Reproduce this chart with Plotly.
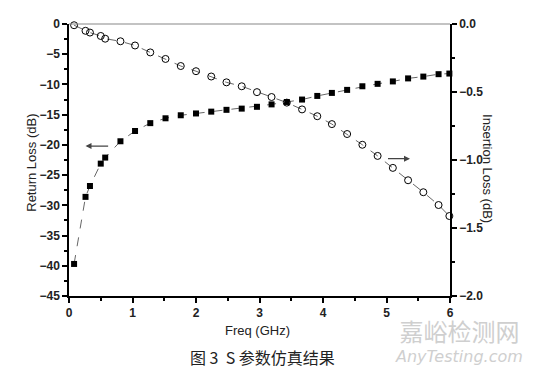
import plotly.graph_objects as go

freq = [0.08, 0.26, 0.33, 0.5, 0.57, 0.81, 1.04, 1.28, 1.52, 1.76, 2.0, 2.24, 2.48,
        2.72, 2.96, 3.19, 3.43, 3.67, 3.91, 4.14, 4.38, 4.62, 4.86, 5.1, 5.34, 5.58, 5.82, 5.99]
return_loss = [-39.7, -28.6, -26.8, -23.1, -22.1, -19.4, -17.7, -16.4, -15.6, -15.1, -14.8,
               -14.5, -14.2, -14.0, -13.7, -13.3, -12.9, -12.5, -11.9, -11.4, -10.9, -10.3,
               -9.9, -9.5, -9.0, -8.7, -8.3, -8.2]
insertion_loss = [-0.009, -0.05, -0.063, -0.088, -0.108, -0.127, -0.158, -0.209, -0.257,
                  -0.309, -0.347, -0.386, -0.429, -0.458, -0.501, -0.537, -0.578, -0.628,
                  -0.678, -0.736, -0.809, -0.888, -0.970, -1.058, -1.149, -1.237, -1.331, -1.412]

font = "Arial, Liberation Sans, sans-serif"

fig = go.Figure()
fig.add_trace(go.Scatter(
    x=freq, y=return_loss, mode="lines+markers", yaxis="y",
    line=dict(color="#666666", width=1, dash="dash"),
    marker=dict(symbol="square", size=6, color="black"),
    cliponaxis=False, showlegend=False))
fig.add_trace(go.Scatter(
    x=freq, y=insertion_loss, mode="lines+markers", yaxis="y2",
    line=dict(color="#666666", width=1, dash="dash"),
    marker=dict(symbol="circle-open", size=7, color="black", line=dict(width=1)),
    cliponaxis=False, showlegend=False))

tickfont = dict(family=font, size=12, color="#222222", weight="bold")

fig.update_layout(
    width=540, height=368,
    margin=dict(l=61, r=98, t=9, b=80),
    paper_bgcolor="white", plot_bgcolor="white",
    xaxis=dict(range=[0, 6], tickvals=[0, 1, 2, 3, 4, 5, 6], ticks="outside", ticklen=5,
               tickcolor="black", tickwidth=1.5, showgrid=False, zeroline=False,
               showline=True, linecolor="black", linewidth=1.5, mirror=False,
               tickfont=tickfont,
               minor=dict(dtick=0.5, ticks="outside", ticklen=3, tickcolor="black")),
    yaxis=dict(range=[-45, 0], dtick=5, ticks="outside", ticklen=5, tickcolor="black",
               tickwidth=1.5, showgrid=False, zeroline=False, showline=True,
               linecolor="black", linewidth=1.5, tickfont=tickfont,
               minor=dict(dtick=2.5, ticks="outside", ticklen=3, tickcolor="black")),
    yaxis2=dict(range=[-2.0, 0.0], dtick=0.5, tickformat=".1f", overlaying="y", side="right",
                ticks="outside", ticklen=5, tickcolor="black", tickwidth=1.5,
                showgrid=False, zeroline=False, showline=True, linecolor="black",
                linewidth=1.5, tickfont=tickfont,
                minor=dict(dtick=0.25, ticks="outside", ticklen=3, tickcolor="black")),
    shapes=[dict(type="line", xref="paper", yref="paper", x0=0, x1=1, y0=1, y1=1,
                 line=dict(color="#888888", width=1.2))],
    annotations=[
        dict(text="Return Loss (dB)", xref="paper", yref="paper", x=-0.097, y=0.49,
             xanchor="center", yanchor="middle", textangle=-90, showarrow=False,
             font=dict(family=font, size=13, color="#222222")),
        dict(text="Insertion Loss (dB)", xref="paper", yref="paper", x=1.10, y=0.47,
             xanchor="center", yanchor="middle", textangle=90, showarrow=False,
             font=dict(family=font, size=13, color="#222222")),
        dict(text="Freq (GHz)", xref="paper", yref="paper", x=0.496, y=-0.125,
             xanchor="center", yanchor="middle", showarrow=False,
             font=dict(family=font, size=13, color="#222222")),
        dict(text="图 3  S 参数仿真结果", xref="paper", yref="paper", x=0.507, y=-0.226,
             xanchor="center", yanchor="middle", showarrow=False,
             font=dict(family="Noto Sans CJK SC", size=16, color="#222222")),
        dict(text='<span style="font-size:24px">嘉峪检测网</span><br><i>AnyTesting.com</i>',
             xref="paper", yref="paper", x=1.024, y=-0.172,
             xanchor="center", yanchor="middle", showarrow=False, align="center",
             font=dict(family="DejaVu Sans, Noto Sans CJK SC, sans-serif", size=16,
                       color="#cfcfcf")),
        dict(x=0.26, y=-20.2, xref="x", yref="y", ax=0.64, ay=-20.2, axref="x", ayref="y",
             showarrow=True, arrowhead=2, arrowsize=1, arrowwidth=1.2, arrowcolor="#444444",
             text=""),
        dict(x=5.37, y=-0.99, xref="x", yref="y2", ax=5.0, ay=-0.99, axref="x", ayref="y2",
             showarrow=True, arrowhead=2, arrowsize=1, arrowwidth=1.2, arrowcolor="#444444",
             text=""),
    ],
)

fig.write_html("out.html")
